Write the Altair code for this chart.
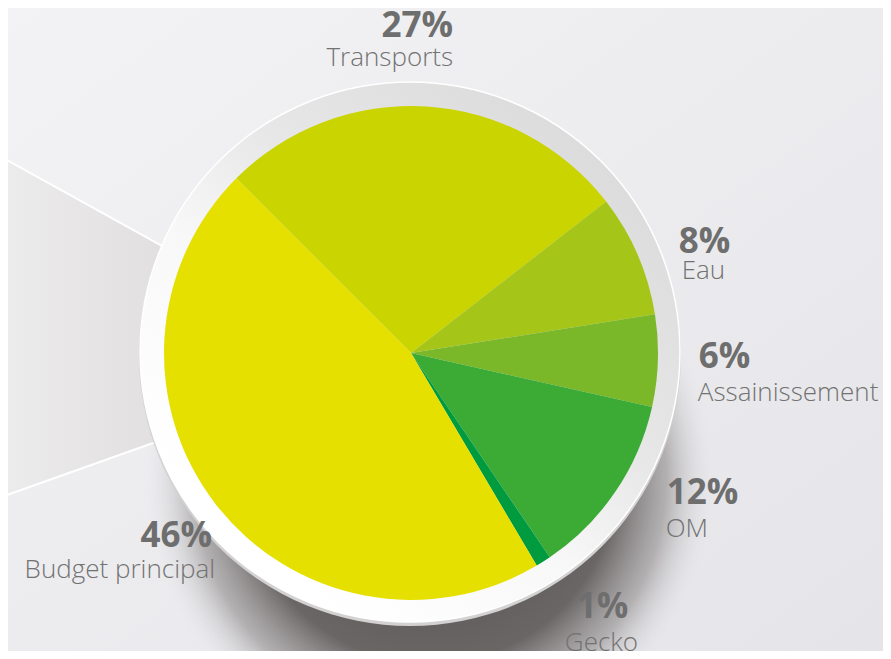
import math
import altair as alt
import pandas as pd

# ---------------- data ----------------
categories = ["Transports", "Eau", "Assainissement", "OM", "Gecko", "Budget principal"]
shares = [27, 8, 6, 12, 1, 46]
pct_labels = ["27%", "8%", "6%", "12%", "1%", "46%"]
colors = ["#C9D400", "#A5C619", "#7AB829", "#3BAB35", "#009B3E", "#E6E000"]

# ---------------- layout ----------------
W, H = 875, 643
OFF = 8
CX, CY = 411 - OFF, 353 - OFF          # pie centre
R_PIE = 247
RING_CX, RING_CY = 410 - OFF, 352 - OFF
R_RING = 270
START = math.radians(-45)
R_LAB = 320
# per label: align, dx pct, dy pct, dy name, dx name
NUDGE = {
    "Transports": ("right", 22, 3, 32, 22),
    "Eau": ("left", -26, 27, 53, -23),
    "Assainissement": ("left", -32, 5, 38, -33),
    "OM": ("left", -9, -29, 4, -10),
    "Gecko": ("center", 20, -5, 28, 19),
    "Budget principal": ("right", 54, -2, 29, 57),
}

df = pd.DataFrame({
    "category": categories,
    "value": shares,
    "pct": pct_labels,
    "order": list(range(len(categories))),
})

theta_scale = alt.Scale(domain=[0, 100], range=[START, START + 2 * math.pi])
one = alt.InlineData(values=[{"k": 1}])

# ---------------- decoration ----------------
bg = alt.Chart(one).mark_rect(
    color=alt.LinearGradient(
        gradient="linear",
        stops=[alt.GradientStop(color="#F3F3F5", offset=0),
               alt.GradientStop(color="#E5E5E9", offset=1)],
        x1=0, y1=0, x2=1, y2=1,
    )
).encode(x=alt.value(0), x2=alt.value(W), y=alt.value(0), y2=alt.value(H))

lens = alt.Chart(one).mark_arc(
    radius=800,
    theta=math.radians(250.4),
    theta2=math.radians(299),
    stroke="white",
    strokeWidth=2,
    color=alt.LinearGradient(
        gradient="linear",
        stops=[alt.GradientStop(color="#EFEEEE", offset=0.5),
               alt.GradientStop(color="#E0DEDE", offset=0.75),
               alt.GradientStop(color="#D8D6D6", offset=1)],
        x1=0, y1=0.5, x2=1, y2=0.5,
    ),
).encode(x=alt.value(375 - OFF), y=alt.value(364 - OFF))

shadow = alt.Chart(one).mark_arc(
    radius=285, theta=0, theta2=2 * math.pi,
    color=alt.RadialGradient(
        gradient="radial",
        stops=[alt.GradientStop(color="#4F4B4B", offset=0),
               alt.GradientStop(color="#6A6666", offset=0.65),
               alt.GradientStop(color="rgba(150,146,146,0.65)", offset=0.83),
               alt.GradientStop(color="rgba(225,225,229,0)", offset=1)],
        x1=0.5, y1=0.5, r1=0, x2=0.5, y2=0.5, r2=0.5,
    ),
).encode(x=alt.value(430 - OFF), y=alt.value(478 - OFF))

bevel = alt.Chart(one).mark_arc(
    radius=R_RING + 1, theta=0, theta2=2 * math.pi, color="#D3D1D1"
).encode(x=alt.value(RING_CX), y=alt.value(RING_CY + 3))

ring = alt.Chart(one).mark_arc(
    radius=R_RING, theta=0, theta2=2 * math.pi,
    stroke="#FFFFFF", strokeWidth=1.5,
    color=alt.LinearGradient(
        gradient="linear",
        stops=[alt.GradientStop(color="#DCDBDB", offset=0),
               alt.GradientStop(color="#E8E7E7", offset=0.4),
               alt.GradientStop(color="#F8F8F8", offset=0.65),
               alt.GradientStop(color="#FFFFFF", offset=1)],
        x1=0.85, y1=0.1, x2=0.2, y2=0.85,
    ),
).encode(x=alt.value(RING_CX), y=alt.value(RING_CY))

# ---------------- pie ----------------
pie = alt.Chart(df).mark_arc(radius=R_PIE).encode(
    theta=alt.Theta("value:Q", stack=True, scale=theta_scale),
    order=alt.Order("order:Q"),
    color=alt.Color("category:N", scale=alt.Scale(domain=categories, range=colors), legend=None),
    x=alt.value(CX),
    y=alt.value(CY),
)

# ---------------- labels ----------------
lab_base = alt.Chart(df).transform_window(
    cum="sum(value)", sort=[alt.SortField("order")], frame=[None, 0]
).transform_calculate(mid="datum.cum - datum.value / 2")

label_layers = []
for cat in categories:
    align, dxp, dyp, dyn, dxn = NUDGE[cat]
    sub = lab_base.transform_filter(alt.datum.category == cat)
    label_layers.append(
        sub.mark_text(
            radius=R_LAB, align=align, baseline="alphabetic", dx=dxp, dy=dyp,
            font="Open Sans", fontWeight="bold", fontSize=35, color="#6E6E6E",
        ).encode(theta=alt.Theta("mid:Q", scale=theta_scale), text="pct:N",
                 x=alt.value(CX), y=alt.value(CY))
    )
    label_layers.append(
        sub.mark_text(
            radius=R_LAB, align=align, baseline="alphabetic", dx=dxn, dy=dyn,
            font="Open Sans", fontWeight=300, fontSize=26, color="#727272",
        ).encode(theta=alt.Theta("mid:Q", scale=theta_scale), text="category:N",
                 x=alt.value(CX), y=alt.value(CY))
    )

chart = alt.layer(bg, lens, shadow, bevel, ring, pie, *label_layers).properties(
    width=W, height=H, autosize="none", padding=0, background="#F1F1F3"
).configure_view(stroke=None)

chart.save("out.html", embed_options={"renderer": "svg", "actions": False})
